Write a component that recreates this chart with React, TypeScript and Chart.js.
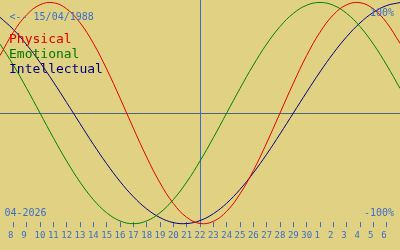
import React, { useEffect, useRef } from 'react';
import { Chart, registerables } from 'chart.js';

Chart.register(...registerables);

// Day-of-month for each x position (0 = 7 Apr ... 30 = 7 May)
const dayLabels = [
  '7', '8', '9', '10', '11', '12', '13', '14', '15', '16', '17', '18', '19', '20', '21',
  '22', '23', '24', '25', '26', '27', '28', '29', '30', '1', '2', '3', '4', '5', '6', '7',
];
// positions that carry a tick + label
const tickIndexes = [
  1, 2, 3, 4, 5, 6, 7, 8, 9, 10, 11, 12, 13, 14, 15, 16, 17, 18, 19, 20, 21, 22, 23, 24, 25, 26, 27, 28, 29,
];
const todayIndex = 15;

const physical = [
  0.52, 0.731, 0.888, 0.979, 0.998, 0.942, 0.817, 0.631, 0.398, 0.136, -0.136, -0.398, -0.631, -0.817,
  -0.942, -0.998, -0.979, -0.888, -0.731, -0.52, -0.27, 0, 0.27, 0.52, 0.731, 0.888, 0.979, 0.998, 0.942,
  0.817, 0.631,
];
const emotional = [
  0.624, 0.434, 0.223, 0, -0.223, -0.434, -0.624, -0.782, -0.901, -0.975, -1, -0.975, -0.901, -0.782,
  -0.624, -0.434, -0.223, 0, 0.223, 0.434, 0.624, 0.782, 0.901, 0.975, 1, 0.975, 0.901, 0.782, 0.624,
  0.434, 0.223,
];
const intellectual = [
  0.866, 0.756, 0.618, 0.458, 0.282, 0.095, -0.095, -0.282, -0.458, -0.618, -0.756, -0.866, -0.945,
  -0.99, -0.999, -0.972, -0.91, -0.815, -0.69, -0.541, -0.372, -0.189, 0, 0.189, 0.372, 0.541, 0.69,
  0.815, 0.91, 0.972, 0.999,
];

const seriesNames = ['Physical', 'Emotional', 'Intellectual'];
const birthText = '<-- 15/04/1988';
const monthText = '04-2026';
const topText = '100%';
const bottomText = '-100%';

const BG = '#e0d282';
const BLUE = '#3c6ec8';
const ZERO = '#4f6480';
const LINE_COLORS = ['#e00000', '#008000', '#000080'];
const TEXT_COLORS = ['#dc0000', '#007800', '#00007c'];
const MONO = '"DejaVu Sans Mono", monospace';

export default function App() {
  const ref = useRef<HTMLCanvasElement>(null);

  useEffect(() => {
    document.body.style.margin = '0';
    const mk = (vals: number[], color: string, label: string) => ({
      label,
      data: vals.map((y, i) => ({ x: i, y })),
      borderColor: color,
      borderWidth: 1,
      pointRadius: 0,
      tension: 0.4,
      fill: false,
      clip: false as any,
    });
    const refLines = {
      id: 'refLines',
      beforeDatasetsDraw(chart: any) {
        const { ctx, chartArea, scales } = chart;
        const px = Math.round(scales.x.getPixelForValue(todayIndex));
        const py = Math.round(scales.y.getPixelForValue(0));
        ctx.save();
        ctx.fillStyle = ZERO;
        ctx.fillRect(chartArea.left, py, chartArea.right - chartArea.left, 1);
        ctx.fillStyle = BLUE;
        ctx.fillRect(px, 0, 1, chartArea.bottom);
        ctx.restore();
      },
    };
    const chart = new Chart(ref.current as HTMLCanvasElement, {
      type: 'line',
      data: {
        datasets: [
          mk(physical, LINE_COLORS[0], seriesNames[0]),
          mk(emotional, LINE_COLORS[1], seriesNames[1]),
          mk(intellectual, LINE_COLORS[2], seriesNames[2]),
        ],
      },
      options: {
        animation: false,
        responsive: false,
        devicePixelRatio: 1,
        layout: { padding: { top: 0, left: 0, right: 0, bottom: 6 } },
        plugins: { legend: { display: false }, tooltip: { enabled: false } },
        scales: {
          x: {
            type: 'linear',
            min: 0,
            max: dayLabels.length - 1,
            border: { display: false },
            grid: { drawOnChartArea: false, drawTicks: true, tickLength: 5, tickColor: BLUE, lineWidth: 1 },
            afterBuildTicks: (axis: any) => {
              axis.ticks = tickIndexes.map((v) => ({ value: v }));
            },
            ticks: {
              autoSkip: false,
              maxRotation: 0,
              padding: 3,
              color: BLUE,
              font: { family: MONO, size: 9 },
              callback: (v: any) => {
                const s = dayLabels[Number(v)];
                return s.length === 1 ? s + ' ' : s;
              },
            },
          },
          y: { display: false, min: -0.98661, max: 1.02232 },
        },
      },
      plugins: [refLines],
    } as any);
    return () => chart.destroy();
  }, []);

  const txt = (extra: React.CSSProperties): React.CSSProperties => ({
    position: 'absolute',
    fontFamily: MONO,
    whiteSpace: 'pre',
    margin: 0,
    ...extra,
  });

  return (
    <div style={{ position: 'absolute', left: 0, top: 0, width: 400, height: 250, background: BG, overflow: 'hidden' }}>
      <canvas ref={ref} width={400} height={250} style={{ position: 'absolute', left: 0, top: 0, width: 400, height: 250 }} />
      <div style={txt({ left: 9.5, top: 12.2, fontSize: 10, lineHeight: '10px', color: BLUE })}>{birthText}</div>
      <div style={txt({ left: 370, top: 7.5, fontSize: 10, lineHeight: '10px', color: BLUE })}>{topText}</div>
      <div style={txt({ left: 364, top: 207.5, fontSize: 10, lineHeight: '10px', color: BLUE })}>{bottomText}</div>
      <div style={txt({ left: 4.5, top: 207.5, fontSize: 10, lineHeight: '10px', color: BLUE })}>{monthText}</div>
      {seriesNames.map((n, i) => (
        <div key={n} style={txt({ left: 9, top: 32.3 + i * 15, fontSize: 13, lineHeight: '13px', color: TEXT_COLORS[i] })}>
          {n}
        </div>
      ))}
    </div>
  );
}
